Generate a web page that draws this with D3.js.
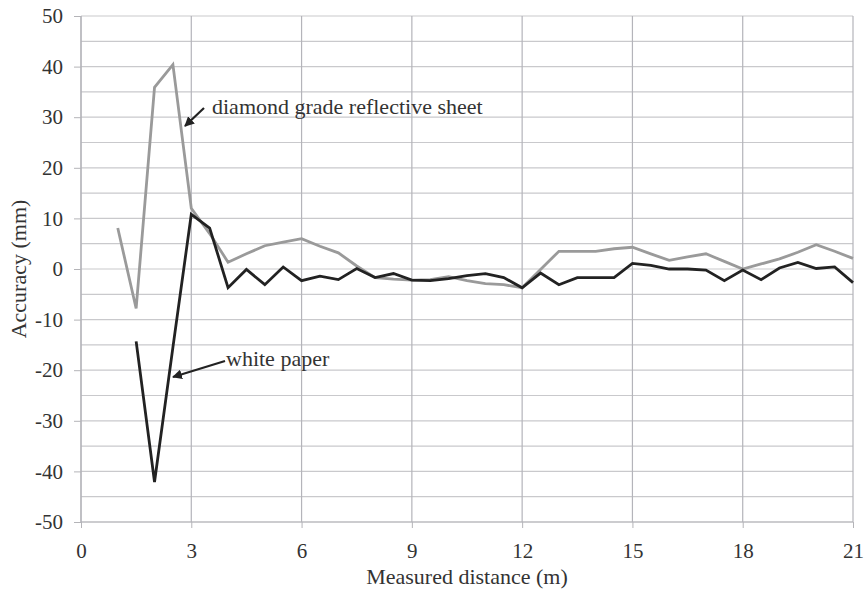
<html>
    <head>
        <script src="https://d3js.org/d3.v7.min.js"></script>
        <style>
            body { margin: 0; background: white; }
            svg text { font-family: "Liberation Serif", "DejaVu Serif", serif; fill: #333; }
            .axis .domain { display: none; }
            .axis line { stroke: #b4b4b8; }
        </style>
    </head>
    <body>
        <svg id="chart" width="867" height="589"></svg>

        <script>
            // distances (m), 0.5 m step
            const distance = [1, 1.5, 2, 2.5, 3, 3.5, 4, 4.5, 5, 5.5, 6, 6.5, 7, 7.5, 8, 8.5, 9, 9.5, 10, 10.5,
                              11, 11.5, 12, 12.5, 13, 13.5, 14, 14.5, 15, 15.5, 16, 16.5, 17, 17.5, 18, 18.5,
                              19, 19.5, 20, 20.5, 21];

            // diamond grade reflective sheet (gray)
            const diamondSheet = [8.1, -7.8, 35.9, 40.4, 12.0, 7.0, 1.35, 3.0, 4.6, 5.3, 6.0, 4.5, 3.2, 0.6,
                                  -1.7, -2.0, -2.2, -2.1, -1.5, -2.3, -2.9, -3.1, -3.7, -0.1, 3.5, 3.5, 3.5,
                                  4.0, 4.3, 3.0, 1.7, 2.4, 3.0, 1.5, 0.0, 1.0, 2.0, 3.3, 4.8, 3.5, 2.1];

            // white paper (black), starts at 1.5 m
            const whitePaper = [null, -14.3, -42.1, -15.5, 10.8, 8.1, -3.7, -0.1, -3.1, 0.4, -2.3, -1.4, -2.1,
                                0.1, -1.7, -0.9, -2.2, -2.3, -1.9, -1.3, -0.9, -1.7, -3.7, -0.8, -3.1, -1.7,
                                -1.7, -1.7, 1.1, 0.7, 0.0, 0.0, -0.2, -2.3, -0.2, -2.1, 0.2, 1.3, 0.1, 0.4, -2.7];

            const xTicks = [0, 3, 6, 9, 12, 15, 18, 21];
            const yTicks = [-50, -40, -30, -20, -10, 0, 10, 20, 30, 40, 50];
            const yGrid = d3.range(-50, 51, 5);

            const serif = '"Liberation Serif", "DejaVu Serif", serif';

            const svg = d3.select("#chart");
            const margin = {top: 16, right: 14, bottom: 67, left: 81};
            const width = 867 - margin.left - margin.right;
            const height = 589 - margin.top - margin.bottom;

            const chart = svg.append("g")
                .attr("transform", "translate(" + margin.left + "," + margin.top + ")");

            const xScale = d3.scaleLinear().domain([0, 21]).range([0, width]);
            const yScale = d3.scaleLinear().domain([-50, 50]).range([height, 0]);

            // gridlines
            chart.append("g").selectAll("line.h")
                .data(yGrid)
                .join("line")
                .attr("x1", 0).attr("x2", width)
                .attr("y1", d => yScale(d)).attr("y2", d => yScale(d))
                .attr("stroke", "#c9c9cc")
                .attr("stroke-width", 1.2);

            chart.append("g").selectAll("line.v")
                .data(xTicks)
                .join("line")
                .attr("x1", d => xScale(d)).attr("x2", d => xScale(d))
                .attr("y1", 0).attr("y2", height)
                .attr("stroke", "#b4b4ba")
                .attr("stroke-width", 1.2);

            // axes
            const leftAxis = d3.axisLeft(yScale).tickValues(yTicks).tickSize(7).tickSizeOuter(0).tickPadding(11);
            const yAxisG = chart.append("g").attr("class", "axis").call(leftAxis);
            yAxisG.selectAll("text").style("font-size", "21px").style("font-family", serif).text(d => d);

            const bottomAxis = d3.axisBottom(xScale).tickValues(xTicks).tickSize(6).tickSizeOuter(0).tickPadding(15);
            const xAxisG = chart.append("g").attr("class", "axis")
                .attr("transform", "translate(0," + height + ")")
                .call(bottomAxis);
            xAxisG.selectAll("text").style("font-size", "21px").style("font-family", serif);

            chart.append("line")
                .attr("x1", 0).attr("x2", width)
                .attr("y1", height).attr("y2", height)
                .attr("stroke", "#b4b4ba").attr("stroke-width", 1.2);
            chart.append("line")
                .attr("x1", 0).attr("x2", 0)
                .attr("y1", 0).attr("y2", height)
                .attr("stroke", "#b4b4ba").attr("stroke-width", 1.2);

            // axis titles
            svg.append("text")
                .attr("x", margin.left + xScale(10.5))
                .attr("y", 584)
                .attr("text-anchor", "middle")
                .style("font-size", "22px").style("font-family", serif)
                .text("Measured distance (m)");

            svg.append("text")
                .attr("transform", "translate(26," + (margin.top + yScale(0)) + ") rotate(-90)")
                .attr("text-anchor", "middle")
                .style("font-size", "22px").style("font-family", serif)
                .text("Accuracy (mm)");

            // lines
            const line = d3.line()
                .defined(d => d[1] !== null)
                .x(d => xScale(d[0]))
                .y(d => yScale(d[1]));

            chart.append("path")
                .datum(distance.map((d, i) => [d, diamondSheet[i]]))
                .attr("fill", "none")
                .attr("stroke", "#9a9a9a")
                .attr("stroke-width", 2.8)
                .attr("d", line);

            chart.append("path")
                .datum(distance.map((d, i) => [d, whitePaper[i]]))
                .attr("fill", "none")
                .attr("stroke", "#222")
                .attr("stroke-width", 2.8)
                .attr("d", line);

            // annotations
            svg.append("defs").append("marker")
                .attr("id", "arrow")
                .attr("viewBox", "0 0 10 10")
                .attr("refX", 9).attr("refY", 5)
                .attr("markerWidth", 4.5).attr("markerHeight", 4.5)
                .attr("orient", "auto")
                .append("path")
                .attr("d", "M0,0 L10,5 L0,10 z")
                .attr("fill", "#222");

            svg.append("line")
                .attr("x1", 204).attr("y1", 108)
                .attr("x2", 185).attr("y2", 126)
                .attr("stroke", "#222").attr("stroke-width", 2.2)
                .attr("marker-end", "url(#arrow)");

            svg.append("text")
                .attr("x", 212).attr("y", 114)
                .style("font-size", "22px").style("font-family", serif)
                .text("diamond grade reflective sheet");

            svg.append("line")
                .attr("x1", 225).attr("y1", 361)
                .attr("x2", 173).attr("y2", 377)
                .attr("stroke", "#222").attr("stroke-width", 2.2)
                .attr("marker-end", "url(#arrow)");

            svg.append("text")
                .attr("x", 226).attr("y", 366)
                .style("font-size", "22px").style("font-family", serif)
                .text("white paper");
        </script>
    </body>
</html>
